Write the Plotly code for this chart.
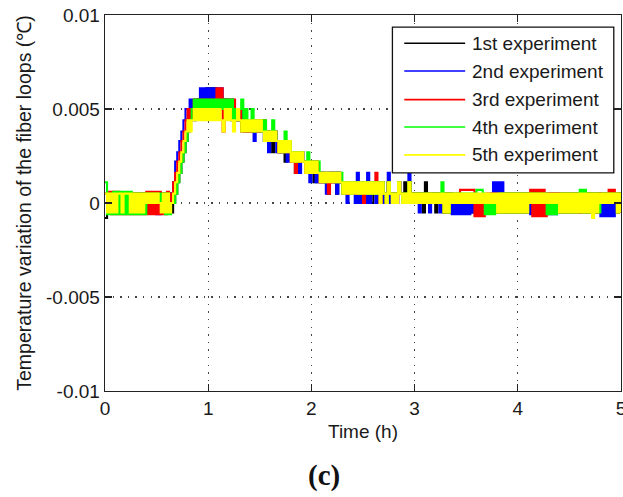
import plotly.graph_objects as go

# Sampling interval of the recorded temperature variation (hours)
sample_interval_h = 0.02

# Temperature variation of the fiber loops,
# in units of 1e-4 degC (the readings are quantized in ~0.00055 degC steps)
exp1_dT = [
    -8, 5, -5, 5, -5, 5, -5, 5, -5, 5,
    -5, 5, -5, 5, -5, 5, -5, 5, -5, 5,
    -5, 5, -5, 5, -5, 5, -5, 5, -5, 5,
    -5, 5, -5, 0, 5, 11, 16, 22, 27, 33,
    38, 44, 50, 44, 50, 55, 50, 55, 55, 61,
    55, 61, 55, 61, 55, 50, 55, 50, 55, 50,
    50, 44, 50, 44, 50, 44, 38, 44, 38, 44,
    38, 44, 38, 44, 38, 44, 38, 33, 38, 33,
    33, 27, 38, 33, 27, 33, 27, 22, 27, 33,
    22, 27, 16, 27, 22, 27, 22, 16, 22, 16,
    16, 11, 22, 11, 11, 16, 11, 16, 5, 16,
    11, 16, 5, 16, 11, 5, 5, 5, 11, 5,
    11, 5, 0, 5, 11, 5, 11, 5, 0, 0,
    11, 5, 11, 0, 11, 5, 0, 11, 5, 0,
    5, 0, 11, 5, 0, 11, 0, 11, 0, 5,
    0, 5, 0, 5, -5, 11, 0, 5, 0, 5,
    -5, 5, 0, 5, -5, 5, -5, 5, -5, 0,
    -5, 0, -5, 0, -5, 0, -5, 0, -5, 0,
    -5, 0, -5, 0, -5, 0, -5, 0, -5, 0,
    -5, 5, -5, 5, -5, 5, -5, 5, -5, 5,
    -5, 5, -5, 5, -5, 5, -5, 5, -5, 5,
    -5, 5, -5, 5, -5, 5, -5, 5, -5, 5,
    -5, 5, -5, 5, -5, 5, -5, 5, -5, 5,
    -5, 5, -5, 5, -5, 5, -5, 5, -5, 5,
    -5, 5, -5, 5, -5, 5, -5, 5, -5, 5,
    5,
]

exp2_dT = [
    5, -5, 5, -5, 5, -5, 5, -5, 5, -5,
    5, -5, 5, -5, 5, -5, 5, -5, 5, -5,
    5, -5, 5, -5, 5, -6, -6, 5, -5, 5,
    -5, 0, 5, 11, 22, 27, 33, 38, 44, 50,
    50, 55, 50, 55, 50, 55, 61, 55, 61, 55,
    61, 55, 61, 55, 61, 55, 61, 55, 50, 55,
    50, 55, 50, 44, 50, 44, 50, 44, 38, 44,
    38, 44, 33, 44, 38, 44, 38, 33, 38, 27,
    38, 33, 38, 27, 27, 33, 27, 33, 22, 33,
    22, 27, 22, 27, 16, 27, 22, 16, 22, 11,
    22, 16, 11, 16, 11, 16, 11, 5, 11, 16,
    11, 16, 5, 16, 11, 5, 11, 0, 11, 5,
    11, 0, 16, 0, 11, 5, 0, 16, 0, 5,
    11, 0, 11, 0, 11, 0, 0, 16, 0, 0,
    5, 0, 11, 5, 0, 5, 0, 16, 0, 5,
    0, 5, -5, 5, 0, 5, 0, -5, 0, 5,
    0, 5, -5, 5, -5, 5, -5, 5, -6, 0,
    -6, 0, -6, 0, -6, 0, -6, 0, -5, 0,
    -5, 0, -5, 0, -5, 0, 0, 5, 11, 5,
    11, 5, 11, 5, -5, 5, -5, 5, -5, 5,
    -5, 5, -5, 5, -5, 5, -6, 5, -6, 5,
    -6, 5, -6, 5, -6, 5, -6, 5, -6, 5,
    -5, 5, -5, 5, -5, 5, -5, 5, -5, 5,
    -5, 5, -5, 5, -5, 5, -5, 5, -5, 5,
    -7, 0, -7, 0, -7, 0, -7, 0, -5, 5,
    -5,
]

exp3_dT = [
    5, -5, 6, -6, 6, -6, 6, -6, 5, -6,
    5, -6, 5, -6, 5, -6, 5, -6, 5, -6,
    6, -6, 6, -6, 6, -6, 6, -6, 5, -6,
    6, -5, 5, 11, 16, 22, 27, 33, 38, 44,
    50, 44, 50, 55, 50, 55, 50, 55, 50, 55,
    50, 55, 50, 55, 61, 55, 61, 38, 55, 50,
    55, 50, 55, 50, 44, 50, 44, 38, 44, 38,
    38, 44, 38, 44, 38, 44, 44, 44, 38, 33,
    38, 33, 38, 33, 27, 33, 27, 33, 27, 33,
    22, 27, 16, 27, 22, 27, 22, 16, 22, 16,
    22, 16, 22, 16, 11, 16, 11, 16, 5, 16,
    11, 16, 11, 16, 11, 5, 11, 5, 11, 5,
    11, 5, 11, 5, 11, 0, 11, 5, 11, 5,
    11, 16, 11, 0, 11, 5, 0, 11, 5, 0,
    5, 0, 11, 5, 0, 5, 0, 11, 0, 5,
    0, 5, 0, 5, 0, 5, 0, 5, 0, 5,
    0, 5, 0, 5, -5, 5, -5, 5, 0, 5,
    0, 5, 7, 7, 7, 7, 7, 7, 7, -7,
    0, -7, 0, -7, 0, 5, 0, 5, 0, 5,
    -5, 5, -5, 5, -5, 5, -5, 5, -5, 5,
    -5, 5, -5, 5, -5, 5, 7, -7, 7, -7,
    7, -7, 7, -7, 0, 5, 0, 5, 0, 5,
    -5, 5, -5, 5, -5, 5, -5, 5, -5, 5,
    -5, 5, -5, 5, -5, 5, -5, 5, -5, 5,
    0, 5, 0, 5, 7, 5, 7, 5, -5, 5,
    -5,
]

exp4_dT = [
    11, -6, 5, -6, 6, -6, 6, -6, 6, -6,
    6, -6, 6, -6, 5, -6, 5, -6, 5, -6,
    5, 0, 5, 0, 5, 0, 5, 0, 5, -6,
    5, -6, 0, 0, 5, 11, 16, 22, 27, 33,
    38, 44, 50, 55, 50, 55, 50, 55, 50, 55,
    50, 55, 50, 55, 50, 55, 50, 55, 50, 55,
    50, 55, 44, 50, 44, 50, 55, 44, 50, 44,
    44, 50, 38, 44, 44, 44, 38, 44, 38, 33,
    38, 44, 38, 33, 33, 33, 27, 38, 33, 33,
    27, 27, 22, 27, 27, 27, 22, 22, 27, 16,
    22, 16, 22, 22, 16, 16, 11, 16, 16, 16,
    16, 16, 11, 16, 16, 5, 11, 11, 11, 5,
    11, 11, 11, 5, 11, 11, 11, 5, 11, 5,
    11, 5, 11, 11, 11, 5, 0, 11, 5, 0,
    5, 5, 11, 5, 0, 5, 0, 11, 0, 5,
    0, 5, 0, 5, 0, 5, 0, 5, 0, 5,
    0, 5, 0, 11, -5, 5, -5, 5, 0, 5,
    0, 5, 0, 5, 0, 5, 0, 5, 0, 5,
    7, 7, 7, 5, -6, 0, -6, 0, -6, 0,
    -5, 5, -5, 5, -5, 5, -5, 5, -5, 5,
    -5, 5, -5, 5, -5, 5, 0, 5, 0, 5,
    0, 5, 0, 5, -6, 0, -6, 0, -6, 0,
    -5, 5, -5, 5, -5, 5, -5, 5, -5, 5,
    7, -5, 7, -5, 5, -5, 5, -5, 5, -5,
    0, 5, 0, 5, 0, 5, 0, 5, -5, 5,
    5,
]

exp5_dT = [
    5, -5, 5, -5, 5, -5, 5, 5, -5, 5,
    5, 5, -5, 5, -5, 5, -5, 5, -5, 5,
    0, 5, 0, 5, 0, 5, 0, -5, 5, -5,
    5, -5, 0, 5, 11, 16, 22, 27, 33, 38,
    44, 38, 44, 50, 44, 50, 44, 50, 44, 50,
    44, 50, 44, 50, 44, 50, 44, 38, 50, 44,
    50, 44, 38, 44, 50, 44, 38, 44, 38, 44,
    38, 44, 38, 44, 38, 44, 38, 33, 38, 33,
    38, 33, 38, 33, 27, 33, 27, 33, 27, 33,
    22, 27, 22, 27, 22, 27, 22, 16, 22, 16,
    22, 16, 22, 16, 11, 16, 11, 16, 11, 16,
    11, 16, 11, 16, 11, 5, 11, 5, 11, 5,
    11, 5, 11, 5, 11, 5, 11, 5, 11, 5,
    11, 5, 11, 0, 11, 5, 0, 11, 5, 0,
    5, 0, 11, 5, 0, 5, 0, 11, 0, 5,
    0, 5, 0, 5, 0, 5, 0, 5, 0, 5,
    0, 5, 0, 5, -5, 5, -5, 5, 0, 5,
    0, 5, 0, 5, 0, 5, 0, 5, 0, 5,
    0, 5, 0, 5, 0, 5, 0, 5, 0, 5,
    -5, 5, -5, 5, -5, 5, -5, 5, -5, 5,
    -5, 5, -5, 5, -5, 5, 0, 5, 0, 5,
    0, 5, 0, 5, 0, 5, 0, 5, 0, 5,
    -5, 5, -5, 5, -5, 5, -5, 5, -5, 5,
    -5, 5, -5, 5, -5, 5, -8, 5, -5, 5,
    0, 5, 0, 5, 0, 5, 0, 5, -5, 5,
    -5,
]

reading_unit_degC = 1e-4

series_names = ["1st experiment", "2nd experiment", "3rd experiment",
                "4th experiment", "5th experiment"]
series_colors = ["#000000", "#0000ff", "#ff0000", "#00ff00", "#ffff00"]
series_values = [exp1_dT, exp2_dT, exp3_dT, exp4_dT, exp5_dT]

x_tick_vals = [0, 1, 2, 3, 4, 5]
x_tick_text = ["0", "1", "2", "3", "4", "5"]
y_tick_vals = [-0.01, -0.005, 0, 0.005, 0.01]
y_tick_text = ["-0.01", "-0.005", "0", "0.005", "0.01"]

x_title = "Time (h)"
y_title = "Temperature variation of the fiber loops (\u2103)"
caption = "(c)"

FONT = "Liberation Sans, Arial, sans-serif"

fig = go.Figure()
for name, color, vals in zip(series_names, series_colors, series_values):
    t = [round(i * sample_interval_h, 4) for i in range(len(vals))]
    fig.add_trace(go.Scatter(
        x=t, y=[v * reading_unit_degC for v in vals],
        mode="lines", name=name, showlegend=False, hoverinfo="skip",
        line=dict(color=color, width=2.1, shape="hv"),
    ))

axis_common = dict(
    showline=True, linecolor="#222", linewidth=1.3, mirror="ticks",
    ticks="inside", ticklen=7, tickwidth=1.3, tickcolor="#222",
    showgrid=True, gridcolor="#444", gridwidth=1.4, griddash="1.4px,6.2px",
    zeroline=False, ticklabeloverflow="allow",
    tickfont=dict(family=FONT, size=19, color="#1a1a1a"),
)

fig.update_xaxes(range=[0, 5], tickvals=x_tick_vals, ticktext=x_tick_text,
                 title=dict(text=x_title, font=dict(family=FONT, size=19, color="#1a1a1a"), standoff=6),
                 **axis_common)
fig.update_yaxes(range=[-0.01, 0.01], tickvals=y_tick_vals, ticktext=y_tick_text,
                 title=dict(text=y_title, font=dict(family=FONT, size=19.5, color="#1a1a1a"), standoff=9),
                 **axis_common)

# Legend box (MATLAB style), drawn in paper coordinates
legend_x0, legend_x1, legend_y0, legend_y1 = 0.557, 0.986, 0.580, 0.968
legend_rows = [0.925, 0.851, 0.775, 0.702, 0.628]
shapes = [dict(type="rect", xref="paper", yref="paper", x0=legend_x0, x1=legend_x1,
               y0=legend_y0, y1=legend_y1, line=dict(color="#111", width=1.3),
               fillcolor="white", layer="above")]
annotations = []
for name, color, yy in zip(series_names, series_colors, legend_rows):
    shapes.append(dict(type="line", xref="paper", yref="paper", x0=0.580, x1=0.698,
                       y0=yy, y1=yy, line=dict(color=color, width=1.6), layer="above"))
    annotations.append(dict(text=name, xref="paper", yref="paper", x=0.707, y=yy,
                            xanchor="left", yanchor="middle", showarrow=False,
                            font=dict(family=FONT, size=19, color="#1a1a1a")))

annotations.append(dict(text="<b>" + caption + "</b>", xref="paper", yref="paper",
                        x=0.424, y=-0.226, xanchor="center", yanchor="middle", showarrow=False,
                        font=dict(family="Liberation Serif, Times New Roman, serif", size=29, color="#111")))

fig.update_layout(
    width=623, height=497,
    margin=dict(l=105, r=2, t=15, b=106, autoexpand=False),
    paper_bgcolor="white", plot_bgcolor="white",
    showlegend=False, shapes=shapes, annotations=annotations,
)

fig.write_html("out.html", config={"displayModeBar": False, "staticPlot": True},
               post_script="document.body.style.margin='0px';")
